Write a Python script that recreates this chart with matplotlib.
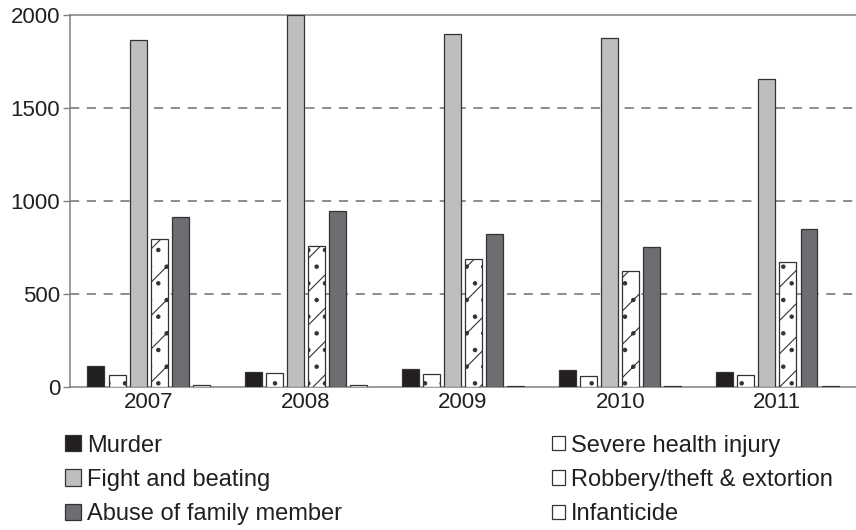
import numpy as np
import matplotlib
matplotlib.use("Agg")
import matplotlib.pyplot as plt
from matplotlib.patches import Patch

plt.rcParams['font.family'] = ['Liberation Sans', 'DejaVu Sans']
plt.rcParams['hatch.linewidth'] = 0.8

# Datos
anios = ["2007", "2008", "2009", "2010", "2011"]
asesinato = [113, 80, 97, 90, 80]
lesion_grave = [65, 75, 70, 58, 65]
pelea = [1865, 2000, 1898, 1876, 1656]
robo = [796, 758, 688, 624, 672]
abuso = [914, 946, 823, 753, 850]
infanticidio = [8, 10, 5, 5, 5]

series = [
    ("Murder", asesinato, "#231f20", None),
    ("Severe health injury", lesion_grave, "white", ". "),
    ("Fight and beating", pelea, "#bcbec0", None),
    ("Robbery/theft & extortion", robo, "white", "/."),
    ("Abuse of family member", abuso, "#6d6e71", None),
    ("Infanticide", infanticidio, "white", None),
]

fig = plt.figure(figsize=(8.56, 5.30), dpi=100)
ax = fig.add_axes([0.0818, 0.270, 0.9182, 0.702])

x = np.arange(len(anios))
paso = 0.134
ancho = 0.108
handles = {}
for i, (nombre, valores, color, hatch) in enumerate(series):
    ax.bar(x + (i - 2.5) * paso, valores, width=ancho, color=color,
           edgecolor="#333333", linewidth=0.9, hatch=hatch, zorder=3)
    handles[nombre] = Patch(facecolor=color, edgecolor="#333333",
                            linewidth=0.9, hatch=None)

ax.set_xlim(-0.5, 4.5)
ax.set_ylim(0, 2000)
ax.set_yticks([0, 500, 1000, 1500, 2000])
ax.set_xticks(x)
ax.set_xticklabels(anios)
ax.tick_params(axis="x", length=0, pad=4, labelsize=16, colors="#231f20")
ax.tick_params(axis="y", length=5, width=1, color="#808080", pad=2,
               labelsize=16, labelcolor="#231f20")
for yv in [500, 1000, 1500]:
    ax.axhline(yv, color="#6d6e71", linestyle=(0, (6, 5)), linewidth=1.1, zorder=1)

for lado in ["left", "top", "bottom"]:
    ax.spines[lado].set_color("#808080")
    ax.spines[lado].set_linewidth(1.1)
ax.spines["right"].set_visible(False)

col1 = ["Murder", "Fight and beating", "Abuse of family member"]
col2 = ["Severe health injury", "Robbery/theft & extortion", "Infanticide"]
kw = dict(frameon=False, fontsize=17, handletextpad=0.25, labelspacing=0.52,
          borderaxespad=0, borderpad=0, labelcolor="#231f20")
fig.legend([handles[n] for n in col1], col1, loc="upper left",
           bbox_to_anchor=(0.076, 0.180), handlelength=0.68, handleheight=0.68,
           **kw)
fig.legend([handles[n] for n in col2], col2, loc="upper left",
           bbox_to_anchor=(0.645, 0.180), handlelength=0.55, handleheight=0.55,
           **kw)

fig.savefig("out.png", dpi=100)
